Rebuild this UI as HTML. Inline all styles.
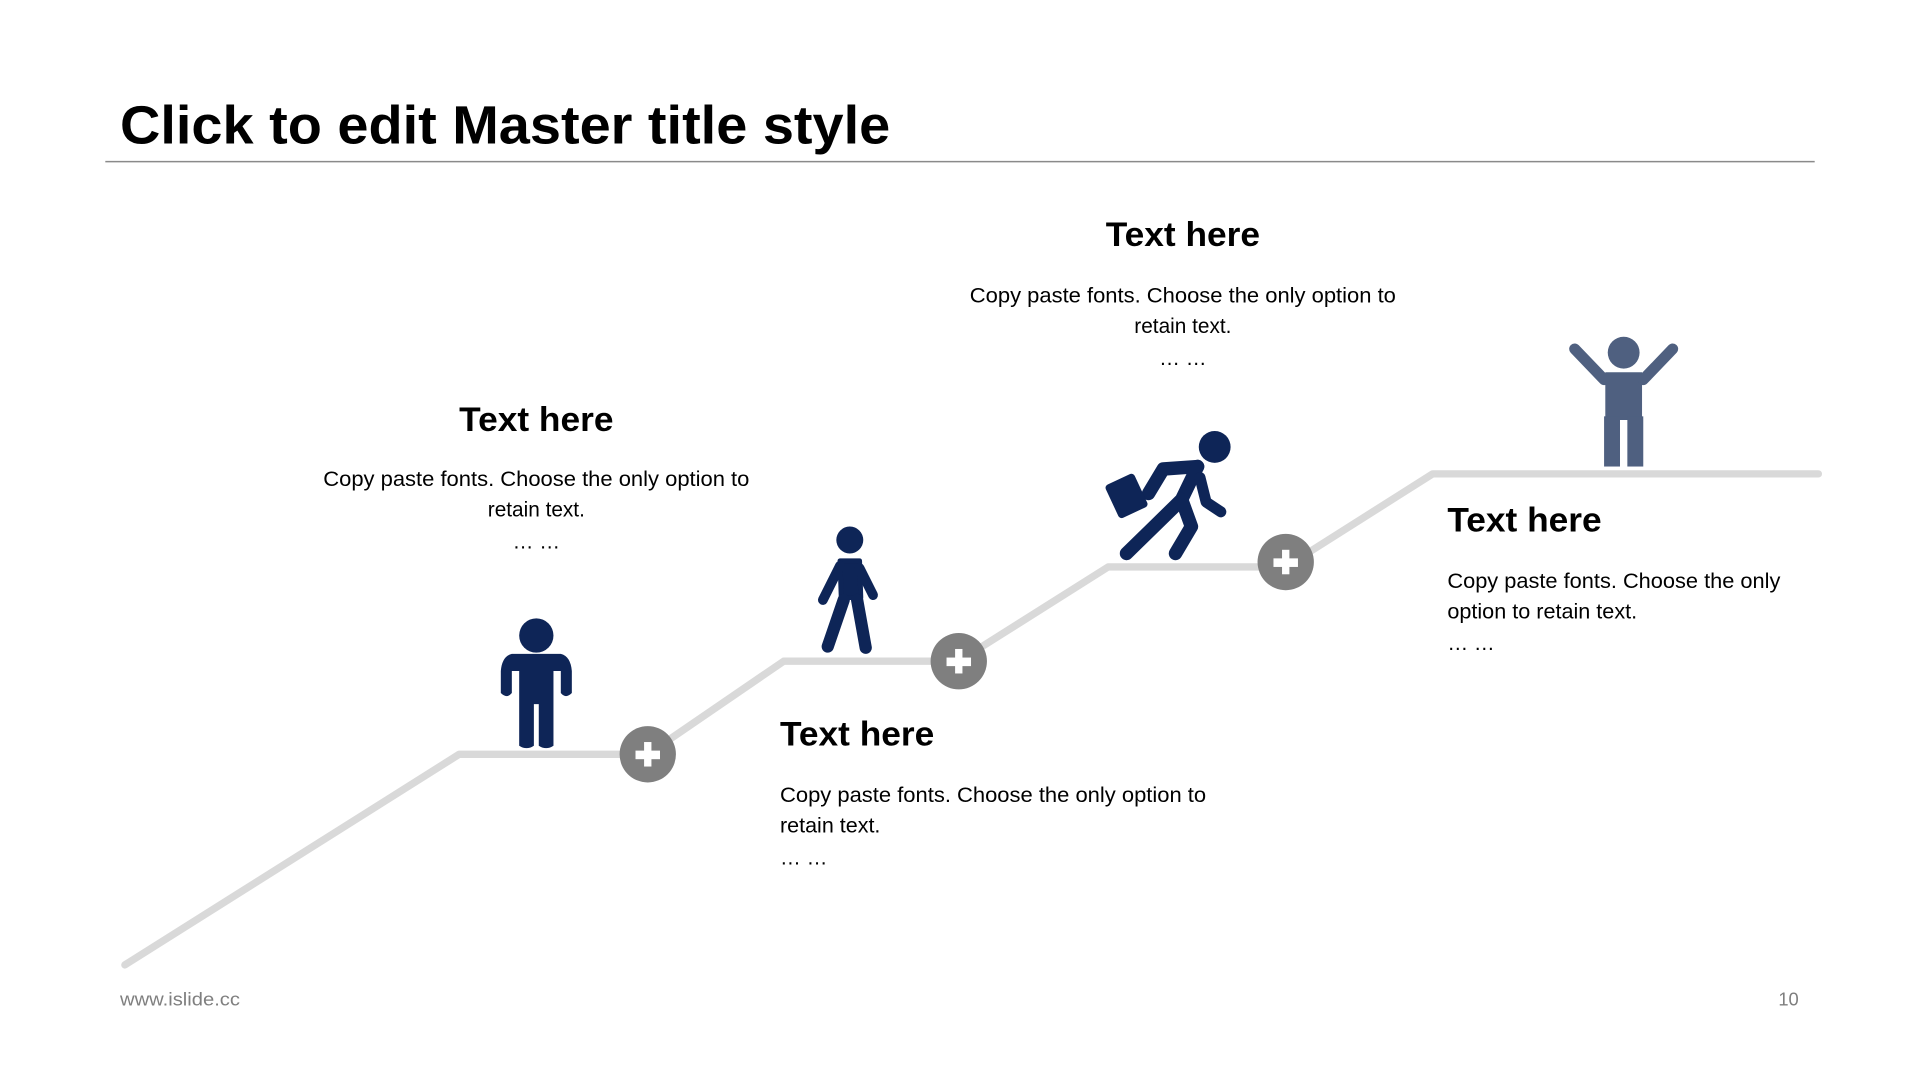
<!DOCTYPE html>
<html><head><meta charset="utf-8"><style>
html,body{margin:0;padding:0;background:#fff;overflow:hidden}
svg{display:block}
text{font-family:"Liberation Sans",Arial,sans-serif}
</style></head><body>
<svg width="1920" height="1080" viewBox="0 0 1568 882" preserveAspectRatio="none" xmlns="http://www.w3.org/2000/svg">
<rect width="1568" height="882" fill="#fff"/>
<text x="98" y="117" font-size="44" font-weight="bold" fill="#000" textLength="629" lengthAdjust="spacingAndGlyphs">Click to edit Master title style</text>
<line x1="86" y1="132" x2="1482" y2="132" stroke="#8a8a8a" stroke-width="1.2"/>

<polyline points="102,788 375,616 529,616 640,540 783,540 905,463 1050,463 1170,387 1485,387" fill="none" stroke="#d9d9d9" stroke-width="6" stroke-linecap="round" stroke-linejoin="round"/>

<g fill="#7f7f7f">
<circle cx="529" cy="616" r="23"/><circle cx="783" cy="540" r="23"/><circle cx="1050" cy="459" r="23"/>
</g>
<g fill="#fff">
<rect x="519" y="613" width="20" height="7"/><rect x="526" y="606" width="6" height="20"/>
<rect x="773" y="537" width="20" height="7"/><rect x="780" y="530" width="6" height="20"/>
<rect x="1040" y="456" width="20" height="7"/><rect x="1047" y="449" width="6" height="20"/>
</g>

<g fill="#0e2557">
<circle cx="438" cy="519" r="14"/>
<path d="M418,534 Q410,536 409,548 L409,566 Q414,571 418,566 L418,548 L424,548 L424,609 Q430,613 436,609 L436,575 L440,575 L440,609 Q446,613 452,609 L452,548 L458,548 L458,566 Q462,571 467,566 L467,548 Q466,536 458,534 Z"/>
</g>
<g fill="#0e2557" stroke="#0e2557" stroke-linecap="round" stroke-linejoin="round">
<circle cx="694" cy="441" r="11" stroke="none"/>
<path d="M686,458 L702,458 L703,488 L687,488 Z" stroke-width="4"/>
<line x1="686" y1="462" x2="672" y2="490" stroke-width="8"/>
<line x1="702" y1="464" x2="713" y2="486" stroke-width="8"/>
<line x1="689" y1="490" x2="676" y2="528" stroke-width="10"/>
<line x1="700" y1="490" x2="707" y2="529" stroke-width="10"/>
</g>
<g fill="#0e2557" stroke="#0e2557" stroke-linecap="round" stroke-linejoin="round">
<circle cx="992" cy="365" r="13" stroke="none"/>
<path d="M978,381 L950,383 L938,403" fill="none" stroke-width="11"/>
<path d="M978,381 L965,408 L920,452" fill="none" stroke-width="11"/>
<path d="M965,408 L973,430 L960,452" fill="none" stroke-width="11"/>
<path d="M980,390 L985,410 L997,418" fill="none" stroke-width="9"/>
<rect x="907" y="390" width="26" height="30" rx="3" transform="rotate(-25 920 405)" stroke="none"/>
</g>
<g fill="#4f6080" stroke="#4f6080" stroke-linecap="round">
<circle cx="1326" cy="288" r="13" stroke="none"/>
<path d="M1311,304 L1341,304 L1341,343 L1311,343 Z" stroke="none"/>
<line x1="1286" y1="285" x2="1310" y2="310" stroke-width="9"/>
<line x1="1366" y1="285" x2="1342" y2="310" stroke-width="9"/>
<rect x="1310" y="340" width="13" height="41" stroke="none"/>
<rect x="1329" y="340" width="13" height="41" stroke="none"/>
</g>

<g fill="#000">
<text x="375" y="352" font-size="28" font-weight="bold" textLength="126" lengthAdjust="spacingAndGlyphs">Text here</text>
<text x="264" y="397" font-size="17" textLength="348" lengthAdjust="spacingAndGlyphs">Copy paste fonts. Choose the only option to</text>
<text x="438" y="422" font-size="17" text-anchor="middle">retain text.</text>
<text x="438" y="448" font-size="17" text-anchor="middle">… …</text>

<text x="903" y="201" font-size="28" font-weight="bold" textLength="126" lengthAdjust="spacingAndGlyphs">Text here</text>
<text x="792" y="247" font-size="17" textLength="348" lengthAdjust="spacingAndGlyphs">Copy paste fonts. Choose the only option to</text>
<text x="966" y="272" font-size="17" text-anchor="middle">retain text.</text>
<text x="966" y="298" font-size="17" text-anchor="middle">… …</text>

<text x="637" y="609" font-size="28" font-weight="bold" textLength="126" lengthAdjust="spacingAndGlyphs">Text here</text>
<text x="637" y="655" font-size="17" textLength="348" lengthAdjust="spacingAndGlyphs">Copy paste fonts. Choose the only option to</text>
<text x="637" y="680" font-size="17" textLength="82" lengthAdjust="spacingAndGlyphs">retain text.</text>
<text x="637" y="706" font-size="17">… …</text>

<text x="1182" y="434" font-size="28" font-weight="bold" textLength="126" lengthAdjust="spacingAndGlyphs">Text here</text>
<text x="1182" y="480" font-size="17" textLength="272" lengthAdjust="spacingAndGlyphs">Copy paste fonts. Choose the only</text>
<text x="1182" y="505" font-size="17" textLength="155" lengthAdjust="spacingAndGlyphs">option to retain text.</text>
<text x="1182" y="531" font-size="17">… …</text>
</g>

<text x="98" y="821" font-size="15" fill="#7f7f7f" textLength="98" lengthAdjust="spacingAndGlyphs">www.islide.cc</text>
<text x="1469" y="821" font-size="15" fill="#7f7f7f" text-anchor="end">10</text>
</svg>
</body></html>
